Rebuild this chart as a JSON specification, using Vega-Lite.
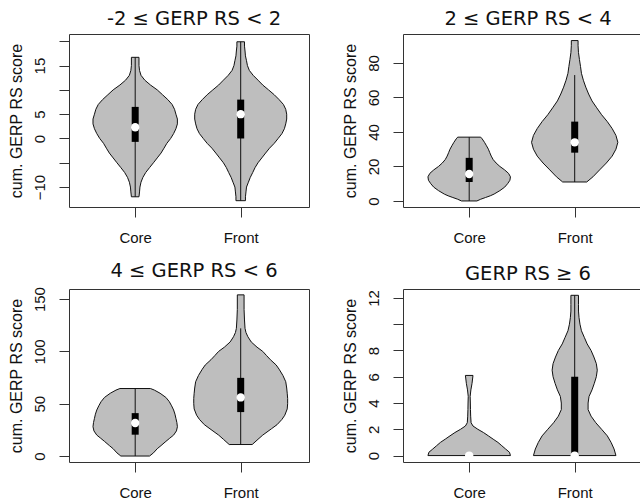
{
  "$schema": "https://vega.github.io/schema/vega-lite/v6.json",
  "padding": {"left": 7, "top": 8, "right": 0, "bottom": 0},
  "columns": 2,
  "spacing": {"row": 82, "column": 94},
  "bounds": "flush",
  "datasets": {
    "violin": [
      {"p":1,"g":"Core","v":-12,"lo":0.964,"hi":1.036},
      {"p":1,"g":"Core","v":-11,"lo":0.959,"hi":1.041},
      {"p":1,"g":"Core","v":-10,"lo":0.955,"hi":1.045},
      {"p":1,"g":"Core","v":-9,"lo":0.945,"hi":1.055},
      {"p":1,"g":"Core","v":-8,"lo":0.927,"hi":1.073},
      {"p":1,"g":"Core","v":-7,"lo":0.900,"hi":1.100},
      {"p":1,"g":"Core","v":-6,"lo":0.864,"hi":1.136},
      {"p":1,"g":"Core","v":-5,"lo":0.827,"hi":1.173},
      {"p":1,"g":"Core","v":-4,"lo":0.791,"hi":1.209},
      {"p":1,"g":"Core","v":-3,"lo":0.755,"hi":1.245},
      {"p":1,"g":"Core","v":-2,"lo":0.727,"hi":1.273},
      {"p":1,"g":"Core","v":-1,"lo":0.700,"hi":1.300},
      {"p":1,"g":"Core","v":0,"lo":0.664,"hi":1.336},
      {"p":1,"g":"Core","v":1,"lo":0.636,"hi":1.364},
      {"p":1,"g":"Core","v":2,"lo":0.614,"hi":1.386},
      {"p":1,"g":"Core","v":3,"lo":0.600,"hi":1.400},
      {"p":1,"g":"Core","v":4,"lo":0.600,"hi":1.400},
      {"p":1,"g":"Core","v":5,"lo":0.614,"hi":1.386},
      {"p":1,"g":"Core","v":6,"lo":0.627,"hi":1.373},
      {"p":1,"g":"Core","v":7,"lo":0.650,"hi":1.350},
      {"p":1,"g":"Core","v":8,"lo":0.691,"hi":1.309},
      {"p":1,"g":"Core","v":9,"lo":0.741,"hi":1.259},
      {"p":1,"g":"Core","v":10,"lo":0.791,"hi":1.209},
      {"p":1,"g":"Core","v":11,"lo":0.855,"hi":1.145},
      {"p":1,"g":"Core","v":12,"lo":0.909,"hi":1.091},
      {"p":1,"g":"Core","v":13,"lo":0.945,"hi":1.055},
      {"p":1,"g":"Core","v":14,"lo":0.959,"hi":1.041},
      {"p":1,"g":"Core","v":15,"lo":0.964,"hi":1.036},
      {"p":1,"g":"Core","v":16.7,"lo":0.964,"hi":1.036},

      {"p":1,"g":"Front","v":-12.8,"lo":1.955,"hi":2.045},
      {"p":1,"g":"Front","v":-12,"lo":1.955,"hi":2.045},
      {"p":1,"g":"Front","v":-11,"lo":1.950,"hi":2.050},
      {"p":1,"g":"Front","v":-10,"lo":1.945,"hi":2.055},
      {"p":1,"g":"Front","v":-9,"lo":1.927,"hi":2.073},
      {"p":1,"g":"Front","v":-8,"lo":1.909,"hi":2.091},
      {"p":1,"g":"Front","v":-7,"lo":1.886,"hi":2.114},
      {"p":1,"g":"Front","v":-6,"lo":1.864,"hi":2.136},
      {"p":1,"g":"Front","v":-5,"lo":1.836,"hi":2.164},
      {"p":1,"g":"Front","v":-4,"lo":1.800,"hi":2.200},
      {"p":1,"g":"Front","v":-3,"lo":1.764,"hi":2.236},
      {"p":1,"g":"Front","v":-2,"lo":1.727,"hi":2.273},
      {"p":1,"g":"Front","v":-1,"lo":1.682,"hi":2.318},
      {"p":1,"g":"Front","v":0,"lo":1.645,"hi":2.355},
      {"p":1,"g":"Front","v":1,"lo":1.609,"hi":2.391},
      {"p":1,"g":"Front","v":2,"lo":1.586,"hi":2.414},
      {"p":1,"g":"Front","v":3,"lo":1.573,"hi":2.427},
      {"p":1,"g":"Front","v":4,"lo":1.564,"hi":2.436},
      {"p":1,"g":"Front","v":5,"lo":1.564,"hi":2.436},
      {"p":1,"g":"Front","v":6,"lo":1.573,"hi":2.427},
      {"p":1,"g":"Front","v":7,"lo":1.595,"hi":2.405},
      {"p":1,"g":"Front","v":8,"lo":1.636,"hi":2.364},
      {"p":1,"g":"Front","v":9,"lo":1.682,"hi":2.318},
      {"p":1,"g":"Front","v":10,"lo":1.736,"hi":2.264},
      {"p":1,"g":"Front","v":11,"lo":1.791,"hi":2.209},
      {"p":1,"g":"Front","v":12,"lo":1.836,"hi":2.164},
      {"p":1,"g":"Front","v":13,"lo":1.882,"hi":2.118},
      {"p":1,"g":"Front","v":14,"lo":1.918,"hi":2.082},
      {"p":1,"g":"Front","v":15,"lo":1.936,"hi":2.064},
      {"p":1,"g":"Front","v":16,"lo":1.945,"hi":2.055},
      {"p":1,"g":"Front","v":17,"lo":1.955,"hi":2.045},
      {"p":1,"g":"Front","v":18,"lo":1.959,"hi":2.041},
      {"p":1,"g":"Front","v":19,"lo":1.964,"hi":2.036},
      {"p":1,"g":"Front","v":19.9,"lo":1.964,"hi":2.036},

      {"p":2,"g":"Core","v":0,"lo":0.927,"hi":1.073},
      {"p":2,"g":"Core","v":1,"lo":0.891,"hi":1.109},
      {"p":2,"g":"Core","v":2,"lo":0.845,"hi":1.155},
      {"p":2,"g":"Core","v":3,"lo":0.800,"hi":1.200},
      {"p":2,"g":"Core","v":4,"lo":0.764,"hi":1.236},
      {"p":2,"g":"Core","v":6,"lo":0.709,"hi":1.291},
      {"p":2,"g":"Core","v":8,"lo":0.664,"hi":1.336},
      {"p":2,"g":"Core","v":10,"lo":0.636,"hi":1.364},
      {"p":2,"g":"Core","v":12,"lo":0.614,"hi":1.386},
      {"p":2,"g":"Core","v":14,"lo":0.609,"hi":1.391},
      {"p":2,"g":"Core","v":16,"lo":0.627,"hi":1.373},
      {"p":2,"g":"Core","v":18,"lo":0.664,"hi":1.336},
      {"p":2,"g":"Core","v":20,"lo":0.709,"hi":1.291},
      {"p":2,"g":"Core","v":22,"lo":0.745,"hi":1.255},
      {"p":2,"g":"Core","v":24,"lo":0.773,"hi":1.227},
      {"p":2,"g":"Core","v":26,"lo":0.791,"hi":1.209},
      {"p":2,"g":"Core","v":28,"lo":0.805,"hi":1.195},
      {"p":2,"g":"Core","v":30,"lo":0.818,"hi":1.182},
      {"p":2,"g":"Core","v":32,"lo":0.836,"hi":1.164},
      {"p":2,"g":"Core","v":34,"lo":0.855,"hi":1.145},
      {"p":2,"g":"Core","v":36,"lo":0.877,"hi":1.123},
      {"p":2,"g":"Core","v":37,"lo":0.891,"hi":1.109},

      {"p":2,"g":"Front","v":11,"lo":1.886,"hi":2.114},
      {"p":2,"g":"Front","v":14,"lo":1.827,"hi":2.173},
      {"p":2,"g":"Front","v":18,"lo":1.764,"hi":2.236},
      {"p":2,"g":"Front","v":22,"lo":1.700,"hi":2.300},
      {"p":2,"g":"Front","v":26,"lo":1.645,"hi":2.355},
      {"p":2,"g":"Front","v":30,"lo":1.609,"hi":2.391},
      {"p":2,"g":"Front","v":34,"lo":1.591,"hi":2.409},
      {"p":2,"g":"Front","v":38,"lo":1.609,"hi":2.391},
      {"p":2,"g":"Front","v":42,"lo":1.645,"hi":2.355},
      {"p":2,"g":"Front","v":46,"lo":1.691,"hi":2.309},
      {"p":2,"g":"Front","v":50,"lo":1.745,"hi":2.255},
      {"p":2,"g":"Front","v":54,"lo":1.791,"hi":2.209},
      {"p":2,"g":"Front","v":58,"lo":1.836,"hi":2.164},
      {"p":2,"g":"Front","v":62,"lo":1.868,"hi":2.132},
      {"p":2,"g":"Front","v":66,"lo":1.895,"hi":2.105},
      {"p":2,"g":"Front","v":70,"lo":1.918,"hi":2.082},
      {"p":2,"g":"Front","v":74,"lo":1.936,"hi":2.064},
      {"p":2,"g":"Front","v":78,"lo":1.945,"hi":2.055},
      {"p":2,"g":"Front","v":82,"lo":1.955,"hi":2.045},
      {"p":2,"g":"Front","v":86,"lo":1.964,"hi":2.036},
      {"p":2,"g":"Front","v":90,"lo":1.968,"hi":2.032},
      {"p":2,"g":"Front","v":93,"lo":1.968,"hi":2.032},

      {"p":3,"g":"Core","v":0,"lo":0.864,"hi":1.136},
      {"p":3,"g":"Core","v":3,"lo":0.827,"hi":1.173},
      {"p":3,"g":"Core","v":7,"lo":0.791,"hi":1.209},
      {"p":3,"g":"Core","v":10,"lo":0.755,"hi":1.245},
      {"p":3,"g":"Core","v":14,"lo":0.709,"hi":1.291},
      {"p":3,"g":"Core","v":17,"lo":0.673,"hi":1.327},
      {"p":3,"g":"Core","v":20,"lo":0.636,"hi":1.364},
      {"p":3,"g":"Core","v":24,"lo":0.609,"hi":1.391},
      {"p":3,"g":"Core","v":28,"lo":0.600,"hi":1.400},
      {"p":3,"g":"Core","v":32,"lo":0.605,"hi":1.395},
      {"p":3,"g":"Core","v":36,"lo":0.614,"hi":1.386},
      {"p":3,"g":"Core","v":40,"lo":0.623,"hi":1.377},
      {"p":3,"g":"Core","v":44,"lo":0.636,"hi":1.364},
      {"p":3,"g":"Core","v":48,"lo":0.655,"hi":1.345},
      {"p":3,"g":"Core","v":52,"lo":0.677,"hi":1.323},
      {"p":3,"g":"Core","v":56,"lo":0.709,"hi":1.291},
      {"p":3,"g":"Core","v":60,"lo":0.764,"hi":1.236},
      {"p":3,"g":"Core","v":63,"lo":0.818,"hi":1.182},
      {"p":3,"g":"Core","v":64.5,"lo":0.855,"hi":1.145},

      {"p":3,"g":"Front","v":11,"lo":1.891,"hi":2.109},
      {"p":3,"g":"Front","v":16,"lo":1.836,"hi":2.164},
      {"p":3,"g":"Front","v":20,"lo":1.791,"hi":2.209},
      {"p":3,"g":"Front","v":26,"lo":1.709,"hi":2.291},
      {"p":3,"g":"Front","v":30,"lo":1.655,"hi":2.345},
      {"p":3,"g":"Front","v":35,"lo":1.609,"hi":2.391},
      {"p":3,"g":"Front","v":39,"lo":1.582,"hi":2.418},
      {"p":3,"g":"Front","v":45,"lo":1.559,"hi":2.441},
      {"p":3,"g":"Front","v":50,"lo":1.555,"hi":2.445},
      {"p":3,"g":"Front","v":55,"lo":1.555,"hi":2.445},
      {"p":3,"g":"Front","v":60,"lo":1.559,"hi":2.441},
      {"p":3,"g":"Front","v":65,"lo":1.564,"hi":2.436},
      {"p":3,"g":"Front","v":71,"lo":1.573,"hi":2.427},
      {"p":3,"g":"Front","v":77,"lo":1.600,"hi":2.400},
      {"p":3,"g":"Front","v":83,"lo":1.636,"hi":2.364},
      {"p":3,"g":"Front","v":87,"lo":1.664,"hi":2.336},
      {"p":3,"g":"Front","v":92,"lo":1.718,"hi":2.282},
      {"p":3,"g":"Front","v":96,"lo":1.755,"hi":2.245},
      {"p":3,"g":"Front","v":100,"lo":1.791,"hi":2.209},
      {"p":3,"g":"Front","v":104,"lo":1.845,"hi":2.155},
      {"p":3,"g":"Front","v":109,"lo":1.900,"hi":2.100},
      {"p":3,"g":"Front","v":114,"lo":1.932,"hi":2.068},
      {"p":3,"g":"Front","v":118,"lo":1.950,"hi":2.050},
      {"p":3,"g":"Front","v":122,"lo":1.959,"hi":2.041},
      {"p":3,"g":"Front","v":130,"lo":1.964,"hi":2.036},
      {"p":3,"g":"Front","v":140,"lo":1.968,"hi":2.032},
      {"p":3,"g":"Front","v":154,"lo":1.968,"hi":2.032},

      {"p":4,"g":"Core","v":0,"lo":0.609,"hi":1.391},
      {"p":4,"g":"Core","v":0.25,"lo":0.618,"hi":1.382},
      {"p":4,"g":"Core","v":0.5,"lo":0.655,"hi":1.345},
      {"p":4,"g":"Core","v":0.75,"lo":0.691,"hi":1.309},
      {"p":4,"g":"Core","v":1,"lo":0.727,"hi":1.273},
      {"p":4,"g":"Core","v":1.25,"lo":0.773,"hi":1.227},
      {"p":4,"g":"Core","v":1.5,"lo":0.818,"hi":1.182},
      {"p":4,"g":"Core","v":1.75,"lo":0.864,"hi":1.136},
      {"p":4,"g":"Core","v":2,"lo":0.918,"hi":1.082},
      {"p":4,"g":"Core","v":2.25,"lo":0.964,"hi":1.036},
      {"p":4,"g":"Core","v":2.5,"lo":0.982,"hi":1.018},
      {"p":4,"g":"Core","v":3,"lo":0.986,"hi":1.014},
      {"p":4,"g":"Core","v":3.5,"lo":0.988,"hi":1.012},
      {"p":4,"g":"Core","v":4,"lo":0.989,"hi":1.011},
      {"p":4,"g":"Core","v":4.5,"lo":0.991,"hi":1.009},
      {"p":4,"g":"Core","v":5,"lo":0.984,"hi":1.016},
      {"p":4,"g":"Core","v":5.5,"lo":0.973,"hi":1.027},
      {"p":4,"g":"Core","v":6.1,"lo":0.964,"hi":1.036},

      {"p":4,"g":"Front","v":0,"lo":1.609,"hi":2.391},
      {"p":4,"g":"Front","v":0.5,"lo":1.627,"hi":2.373},
      {"p":4,"g":"Front","v":1,"lo":1.655,"hi":2.345},
      {"p":4,"g":"Front","v":1.5,"lo":1.691,"hi":2.309},
      {"p":4,"g":"Front","v":2,"lo":1.745,"hi":2.255},
      {"p":4,"g":"Front","v":2.5,"lo":1.800,"hi":2.200},
      {"p":4,"g":"Front","v":3,"lo":1.845,"hi":2.155},
      {"p":4,"g":"Front","v":3.5,"lo":1.873,"hi":2.127},
      {"p":4,"g":"Front","v":4,"lo":1.873,"hi":2.127},
      {"p":4,"g":"Front","v":4.5,"lo":1.864,"hi":2.136},
      {"p":4,"g":"Front","v":5,"lo":1.836,"hi":2.164},
      {"p":4,"g":"Front","v":5.5,"lo":1.814,"hi":2.186},
      {"p":4,"g":"Front","v":6,"lo":1.795,"hi":2.205},
      {"p":4,"g":"Front","v":6.5,"lo":1.786,"hi":2.214},
      {"p":4,"g":"Front","v":7,"lo":1.795,"hi":2.205},
      {"p":4,"g":"Front","v":7.5,"lo":1.818,"hi":2.182},
      {"p":4,"g":"Front","v":8,"lo":1.845,"hi":2.155},
      {"p":4,"g":"Front","v":8.5,"lo":1.882,"hi":2.118},
      {"p":4,"g":"Front","v":9,"lo":1.909,"hi":2.091},
      {"p":4,"g":"Front","v":9.5,"lo":1.936,"hi":2.064},
      {"p":4,"g":"Front","v":10,"lo":1.950,"hi":2.050},
      {"p":4,"g":"Front","v":10.5,"lo":1.959,"hi":2.041},
      {"p":4,"g":"Front","v":11,"lo":1.964,"hi":2.036},
      {"p":4,"g":"Front","v":11.5,"lo":1.964,"hi":2.036},
      {"p":4,"g":"Front","v":12.2,"lo":1.964,"hi":2.036}
    ],
    "stats": [
      {"p":1,"g":"Core","x":1,"min":-12,"max":16.7,"q1":-0.7,"q3":6.5,"med":2.3},
      {"p":1,"g":"Front","x":2,"min":-12.8,"max":19.9,"q1":0,"q3":8,"med":5},
      {"p":2,"g":"Core","x":1,"min":0,"max":37,"q1":11,"q3":25,"med":15.6},
      {"p":2,"g":"Front","x":2,"min":11,"max":73,"q1":28,"q3":46,"med":34},
      {"p":3,"g":"Core","x":1,"min":0,"max":64.5,"q1":20.4,"q3":41,"med":31.6},
      {"p":3,"g":"Front","x":2,"min":11,"max":122,"q1":42,"q3":74.7,"med":56},
      {"p":4,"g":"Core","x":1,"min":0,"max":0,"q1":0,"q3":0,"med":0},
      {"p":4,"g":"Front","x":2,"min":0,"max":12.2,"q1":0,"q3":6,"med":0}
    ]
  },
  "concat": [
    {
      "title": "-2 ≤ GERP RS < 2",
      "width": 240, "height": 173,
      "layer": [
        {"data": {"name": "violin"}, "transform": [{"filter": "datum.p == 1"}],
         "mark": {"type": "area", "orient": "horizontal", "fill": "#bebebe", "stroke": "#111", "strokeWidth": 1, "opacity": 1},
         "encoding": {
           "y": {"field": "v", "type": "quantitative", "title": "cum. GERP RS score", "scale": {"domain": [-14.1, 21.5], "nice": false, "zero": false},
                 "axis": {"values": [-10,-5,0,5,10,15,20], "labelExpr": "datum.value == 20 || datum.value == 10 || datum.value == -5 ? '' : datum.label"}},
           "x": {"field": "lo", "type": "quantitative", "title": null, "scale": {"domain": [0.42, 2.6], "nice": false, "zero": false},
                 "axis": {"values": [1, 2], "labelExpr": "datum.value == 1 ? 'Core' : 'Front'"}},
           "x2": {"field": "hi"},
           "detail": {"field": "g"}
         }},
        {"data": {"name": "stats"}, "transform": [{"filter": "datum.p == 1"}],
         "mark": {"type": "rule", "color": "#111", "strokeWidth": 1},
         "encoding": {"x": {"field": "x", "type": "quantitative", "title": null, "axis": {"values": [1, 2], "labelExpr": "datum.value == 1 ? 'Core' : 'Front'"}},
                      "y": {"field": "min", "type": "quantitative", "title": "cum. GERP RS score", "axis": {"values": [-10,-5,0,5,10,15,20], "labelExpr": "datum.value == 20 || datum.value == 10 || datum.value == -5 ? '' : datum.label"}}, "y2": {"field": "max"}}},
        {"data": {"name": "stats"}, "transform": [{"filter": "datum.p == 1"}],
         "mark": {"type": "bar", "orient": "vertical", "size": 7, "color": "#000"},
         "encoding": {"x": {"field": "x", "type": "quantitative", "title": null, "axis": {"values": [1, 2], "labelExpr": "datum.value == 1 ? 'Core' : 'Front'"}},
                      "y": {"field": "q1", "type": "quantitative", "title": "cum. GERP RS score", "axis": {"values": [-10,-5,0,5,10,15,20], "labelExpr": "datum.value == 20 || datum.value == 10 || datum.value == -5 ? '' : datum.label"}}, "y2": {"field": "q3"}}},
        {"data": {"name": "stats"}, "transform": [{"filter": "datum.p == 1"}],
         "mark": {"type": "circle", "size": 70, "color": "#fff", "opacity": 1},
         "encoding": {"x": {"field": "x", "type": "quantitative", "title": null, "axis": {"values": [1, 2], "labelExpr": "datum.value == 1 ? 'Core' : 'Front'"}},
                      "y": {"field": "med", "type": "quantitative", "title": "cum. GERP RS score", "axis": {"values": [-10,-5,0,5,10,15,20], "labelExpr": "datum.value == 20 || datum.value == 10 || datum.value == -5 ? '' : datum.label"}}}}
      ]
    },
    {
      "title": "2 ≤ GERP RS < 4",
      "width": 240, "height": 173,
      "layer": [
        {"data": {"name": "violin"}, "transform": [{"filter": "datum.p == 2"}],
         "mark": {"type": "area", "orient": "horizontal", "fill": "#bebebe", "stroke": "#111", "strokeWidth": 1, "opacity": 1},
         "encoding": {
           "y": {"field": "v", "type": "quantitative", "title": "cum. GERP RS score", "scale": {"domain": [-3.5, 96.8], "nice": false, "zero": false},
                 "axis": {"values": [0,20,40,60,80]}},
           "x": {"field": "lo", "type": "quantitative", "title": null, "scale": {"domain": [0.42, 2.6], "nice": false, "zero": false},
                 "axis": {"values": [1, 2], "labelExpr": "datum.value == 1 ? 'Core' : 'Front'"}},
           "x2": {"field": "hi"},
           "detail": {"field": "g"}
         }},
        {"data": {"name": "stats"}, "transform": [{"filter": "datum.p == 2"}],
         "mark": {"type": "rule", "color": "#111", "strokeWidth": 1},
         "encoding": {"x": {"field": "x", "type": "quantitative", "title": null, "axis": {"values": [1, 2], "labelExpr": "datum.value == 1 ? 'Core' : 'Front'"}},
                      "y": {"field": "min", "type": "quantitative", "title": "cum. GERP RS score", "axis": {"values": [0,20,40,60,80]}}, "y2": {"field": "max"}}},
        {"data": {"name": "stats"}, "transform": [{"filter": "datum.p == 2"}],
         "mark": {"type": "bar", "orient": "vertical", "size": 7, "color": "#000"},
         "encoding": {"x": {"field": "x", "type": "quantitative", "title": null, "axis": {"values": [1, 2], "labelExpr": "datum.value == 1 ? 'Core' : 'Front'"}},
                      "y": {"field": "q1", "type": "quantitative", "title": "cum. GERP RS score", "axis": {"values": [0,20,40,60,80]}}, "y2": {"field": "q3"}}},
        {"data": {"name": "stats"}, "transform": [{"filter": "datum.p == 2"}],
         "mark": {"type": "circle", "size": 70, "color": "#fff", "opacity": 1},
         "encoding": {"x": {"field": "x", "type": "quantitative", "title": null, "axis": {"values": [1, 2], "labelExpr": "datum.value == 1 ? 'Core' : 'Front'"}},
                      "y": {"field": "med", "type": "quantitative", "title": "cum. GERP RS score", "axis": {"values": [0,20,40,60,80]}}}}
      ]
    },
    {
      "title": "4 ≤ GERP RS < 6",
      "width": 240, "height": 173,
      "layer": [
        {"data": {"name": "violin"}, "transform": [{"filter": "datum.p == 3"}],
         "mark": {"type": "area", "orient": "horizontal", "fill": "#bebebe", "stroke": "#111", "strokeWidth": 1, "opacity": 1},
         "encoding": {
           "y": {"field": "v", "type": "quantitative", "title": "cum. GERP RS score", "scale": {"domain": [-5.7, 159.6], "nice": false, "zero": false},
                 "axis": {"values": [0,50,100,150]}},
           "x": {"field": "lo", "type": "quantitative", "title": null, "scale": {"domain": [0.42, 2.6], "nice": false, "zero": false},
                 "axis": {"values": [1, 2], "labelExpr": "datum.value == 1 ? 'Core' : 'Front'"}},
           "x2": {"field": "hi"},
           "detail": {"field": "g"}
         }},
        {"data": {"name": "stats"}, "transform": [{"filter": "datum.p == 3"}],
         "mark": {"type": "rule", "color": "#111", "strokeWidth": 1},
         "encoding": {"x": {"field": "x", "type": "quantitative", "title": null, "axis": {"values": [1, 2], "labelExpr": "datum.value == 1 ? 'Core' : 'Front'"}},
                      "y": {"field": "min", "type": "quantitative", "title": "cum. GERP RS score", "axis": {"values": [0,50,100,150]}}, "y2": {"field": "max"}}},
        {"data": {"name": "stats"}, "transform": [{"filter": "datum.p == 3"}],
         "mark": {"type": "bar", "orient": "vertical", "size": 7, "color": "#000"},
         "encoding": {"x": {"field": "x", "type": "quantitative", "title": null, "axis": {"values": [1, 2], "labelExpr": "datum.value == 1 ? 'Core' : 'Front'"}},
                      "y": {"field": "q1", "type": "quantitative", "title": "cum. GERP RS score", "axis": {"values": [0,50,100,150]}}, "y2": {"field": "q3"}}},
        {"data": {"name": "stats"}, "transform": [{"filter": "datum.p == 3"}],
         "mark": {"type": "circle", "size": 70, "color": "#fff", "opacity": 1},
         "encoding": {"x": {"field": "x", "type": "quantitative", "title": null, "axis": {"values": [1, 2], "labelExpr": "datum.value == 1 ? 'Core' : 'Front'"}},
                      "y": {"field": "med", "type": "quantitative", "title": "cum. GERP RS score", "axis": {"values": [0,50,100,150]}}}}
      ]
    },
    {
      "title": "GERP RS ≥ 6",
      "width": 240, "height": 173,
      "layer": [
        {"data": {"name": "violin"}, "transform": [{"filter": "datum.p == 4"}],
         "mark": {"type": "area", "orient": "horizontal", "fill": "#bebebe", "stroke": "#111", "strokeWidth": 1, "opacity": 1},
         "encoding": {
           "y": {"field": "v", "type": "quantitative", "title": "cum. GERP RS score", "scale": {"domain": [-0.49, 12.68], "nice": false, "zero": false},
                 "axis": {"values": [0,2,4,6,8,10,12], "labelExpr": "datum.value == 10 ? '' : datum.label"}},
           "x": {"field": "lo", "type": "quantitative", "title": null, "scale": {"domain": [0.42, 2.6], "nice": false, "zero": false},
                 "axis": {"values": [1, 2], "labelExpr": "datum.value == 1 ? 'Core' : 'Front'"}},
           "x2": {"field": "hi"},
           "detail": {"field": "g"}
         }},
        {"data": {"name": "stats"}, "transform": [{"filter": "datum.p == 4"}],
         "mark": {"type": "rule", "color": "#111", "strokeWidth": 1},
         "encoding": {"x": {"field": "x", "type": "quantitative", "title": null, "axis": {"values": [1, 2], "labelExpr": "datum.value == 1 ? 'Core' : 'Front'"}},
                      "y": {"field": "min", "type": "quantitative", "title": "cum. GERP RS score", "axis": {"values": [0,2,4,6,8,10,12], "labelExpr": "datum.value == 10 ? '' : datum.label"}}, "y2": {"field": "max"}}},
        {"data": {"name": "stats"}, "transform": [{"filter": "datum.p == 4"}],
         "mark": {"type": "bar", "orient": "vertical", "size": 7, "color": "#000"},
         "encoding": {"x": {"field": "x", "type": "quantitative", "title": null, "axis": {"values": [1, 2], "labelExpr": "datum.value == 1 ? 'Core' : 'Front'"}},
                      "y": {"field": "q1", "type": "quantitative", "title": "cum. GERP RS score", "axis": {"values": [0,2,4,6,8,10,12], "labelExpr": "datum.value == 10 ? '' : datum.label"}}, "y2": {"field": "q3"}}},
        {"data": {"name": "stats"}, "transform": [{"filter": "datum.p == 4"}],
         "mark": {"type": "circle", "size": 70, "color": "#fff", "opacity": 1},
         "encoding": {"x": {"field": "x", "type": "quantitative", "title": null, "axis": {"values": [1, 2], "labelExpr": "datum.value == 1 ? 'Core' : 'Front'"}},
                      "y": {"field": "med", "type": "quantitative", "title": "cum. GERP RS score", "axis": {"values": [0,2,4,6,8,10,12], "labelExpr": "datum.value == 10 ? '' : datum.label"}}}}
      ]
    }
  ],
  "config": {
    "font": "Liberation Sans",
    "view": {"stroke": "#333", "strokeWidth": 1},
    "axis": {"domain": false, "grid": false, "tickColor": "#333", "tickSize": 10, "labelColor": "#111", "titleColor": "#111",
             "labelFont": "Liberation Sans", "titleFont": "Liberation Sans", "titleFontWeight": "normal", "labelOverlap": false, "labelFlush": false},
    "axisY": {"labelAngle": -90, "labelAlign": "center", "labelBaseline": "bottom", "labelFontSize": 15, "labelPadding": 12, "titleFontSize": 16, "titlePadding": 8},
    "axisX": {"labelFontSize": 15, "labelPadding": 13},
    "title": {"font": "DejaVu Sans", "fontSize": 19.5, "fontWeight": "normal", "color": "#111", "frame": "group", "anchor": "middle", "baseline": "alphabetic", "offset": 5, "dx": 5}
  }
}
